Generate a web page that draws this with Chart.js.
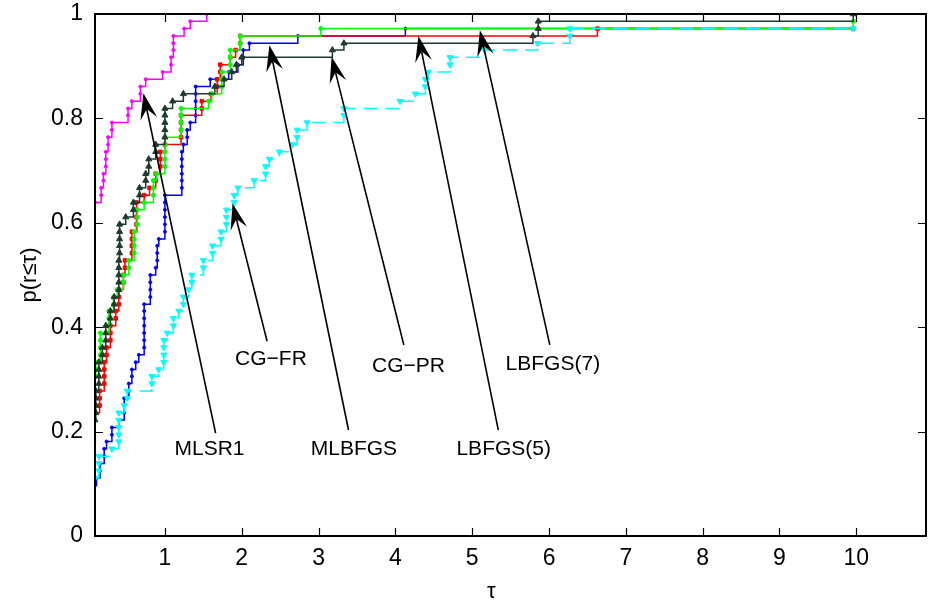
<!DOCTYPE html>
<html>
<head>
<meta charset="utf-8">
<script src="https://cdn.jsdelivr.net/npm/chart.js@4.4.1/dist/chart.umd.min.js"></script>
<style>
  html, body { margin: 0; padding: 0; background: #fff; }
</style>
</head>
<body>
<canvas id="chart" width="931" height="607"></canvas>
<script>
// axis ticks
const tauTicks = [1, 2, 3, 4, 5, 6, 7, 8, 9, 10];
const pTicks = [0, 0.2, 0.4, 0.6, 0.8, 1];

// performance profiles: tau where the curve steps, and p(r<=tau) after the step
const mlsr1Tau = [0.09, 0.17, 0.17, 0.20, 0.20, 0.23, 0.23, 0.23, 0.26, 0.26, 0.31, 0.31, 0.52, 0.52,
  0.57, 0.68, 0.68, 0.75, 0.97, 1.08, 1.08, 1.11, 1.11, 1.11, 1.25, 1.33, 1.545];
const mlsr1P = [.639, .653, .667, .681, .694, .708, .722, .736, .750, .764, .778, .792, .806, .819,
  .833, .847, .861, .875, .889, .903, .917, .931, .944, .958, .972, .986, 1];

const cgprTau = [0.09, 0.10, 0.10, 0.10, 0.10, 0.14, 0.14, 0.14, 0.14, 0.185, 0.185, 0.23, 0.23, 0.23,
  0.29, 0.29, 0.34, 0.34, 0.40, 0.40, 0.40, 0.40, 0.40, 0.41, 0.41, 0.41, 0.41, 0.41, 0.49, 0.59, 0.59,
  0.67, 0.67, 0.75, 0.75, 0.79, 0.79, 0.88, 0.88, 1.0, 1.0, 1.0, 1.0, 1.0, 1.10, 1.24, 1.65, 1.77, 1.87,
  1.93, 2.0, 3.18, 3.33, 5.79, 5.86, 5.86, 9.96];
const cgprP = [.222, .236, .250, .264, .278, .292, .306, .319, .333, .347, .361, .375, .389, .403,
  .417, .431, .444, .458, .472, .486, .500, .514, .528, .542, .556, .569, .583, .597, .611, .625, .639,
  .653, .667, .681, .694, .708, .722, .736, .750, .764, .778, .792, .806, .819, .833, .847, .861, .875, .889,
  .903, .917, .931, .944, .958, .972, .986, 1];

const lbfgs5Tau = [0.09, 0.15, 0.15, 0.15, 0.21, 0.21, 0.21, 0.21, 0.24, 0.24, 0.29, 0.29, 0.29, 0.36,
  0.36, 0.40, 0.40, 0.40, 0.46, 0.46, 0.48, 0.48, 0.57, 0.57, 0.57, 0.57, 0.63, 0.63, 0.63, 0.63, 0.73,
  0.80, 0.88, 0.88, 0.94, 0.94, 0.94, 1.0, 1.21, 1.21, 1.21, 1.21, 1.48, 1.48, 1.6, 1.68, 1.68, 1.72,
  1.72, 1.85, 1.92, 1.98, 1.98, 6.63, 9.96];
const lbfgs5P = [.236, .250, .264, .278, .292, .306, .319, .333, .347, .361, .375, .389, .403, .417,
  .431, .444, .458, .472, .486, .500, .514, .528, .542, .556, .569, .583, .597, .611, .625, .639, .653,
  .667, .681, .694, .708, .722, .736, .750, .764, .778, .792, .806, .819, .833, .847, .861, .875, .889,
  .903, .917, .931, .944, .958, .972, .972];

const lbfgs7Tau = [0.09, 0.10, 0.10, 0.16, 0.16, 0.16, 0.16, 0.27, 0.27, 0.27, 0.33, 0.33, 0.38, 0.46,
  0.46, 0.53, 0.53, 0.60, 0.60, 0.60, 0.60, 0.64, 0.64, 0.64, 0.73, 0.85, 0.85, 0.85, 0.89, 1.0, 1.0,
  1.0, 1.0, 1.0, 1.21, 1.21, 1.21, 1.21, 1.57, 1.61, 1.74, 1.74, 1.74, 1.85, 1.85, 1.85, 1.98, 1.98,
  3.03, 9.96];
const lbfgs7P = [.306, .319, .333, .347, .361, .375, .389, .403, .417, .431, .444, .458, .472, .486,
  .500, .514, .528, .542, .556, .569, .583, .597, .611, .625, .639, .653, .667, .681, .694, .708, .722,
  .736, .750, .764, .778, .792, .806, .819, .833, .847, .861, .875, .889, .903, .917, .931, .944, .958,
  .972, .986];

const mlbfgsTau = [0.09, 0.11, 0.155, 0.155, 0.21, 0.21, 0.24, 0.31, 0.31, 0.40, 0.47, 0.47, 0.47,
  0.53, 0.53, 0.57, 0.57, 0.62, 0.66, 0.73, 0.73, 0.73, 0.73, 0.73, 0.73, 0.73, 0.81, 0.81, 0.81, 0.81,
  0.88, 0.90, 0.90, 0.90, 0.92, 1.0, 1.0, 1.0, 1.0, 1.0, 1.0, 1.22, 1.22, 1.22, 1.22, 1.22, 1.22, 1.24,
  1.29, 1.29, 1.33, 1.40, 1.40, 1.40, 1.40, 1.40, 1.59, 1.83, 1.95, 2.02, 2.02, 2.10, 2.73, 4.13, 9.96];
const mlbfgsP = [.097, .111, .125, .139, .153, .167, .181, .194, .208, .222, .236, .250, .264,
  .278, .292, .306, .319, .333, .347, .361, .375, .389, .403, .417, .431, .444, .458, .472, .486, .500,
  .514, .528, .542, .556, .569, .583, .597, .611, .625, .639, .653, .667, .681, .694, .708, .722, .736, .750,
  .764, .778, .792, .806, .819, .833, .847, .861, .875, .889, .903, .917, .931, .944, .958, .972, .972];

const cgfrTau = [0.09, 0.14, 0.14, 0.14, 0.31, 0.40, 0.40, 0.40, 0.40, 0.40, 0.47, 0.51, 0.51, 0.83,
  0.83, 0.92, 0.985, 0.985, 0.985, 0.985, 1.03, 1.11, 1.11, 1.18, 1.24, 1.24, 1.31, 1.35, 1.35, 1.50,
  1.50, 1.62, 1.62, 1.73, 1.73, 1.80, 1.80, 1.80, 1.90, 1.90, 1.95, 2.16, 2.31, 2.31, 2.36, 2.49, 2.66,
  2.72, 2.72, 2.85, 3.33, 3.33, 4.06, 4.26, 4.39, 4.39, 4.43, 4.71, 4.71, 5.16, 5.85, 6.27, 6.27, 9.96];
const cgfrP = [.111, .125, .139, .153, .167, .181, .194, .208, .222, .236, .250, .264, .278, .292,
  .306, .319, .333, .347, .361, .375, .389, .403, .417, .431, .444, .458, .472, .486, .500, .514,
  .528, .542, .556, .569, .583, .597, .611, .625, .639, .653, .667, .681, .694, .708, .722, .736, .750,
  .764, .778, .792, .806, .819, .833, .847, .861, .875, .889, .903, .917, .931, .944, .958, .972, .972];

// text labels with arrows pointing at their curve (data coordinates)
const noteText = ['MLSR1', 'CG\u2212FR', 'MLBFGS', 'CG\u2212PR', 'LBFGS(5)', 'LBFGS(7)'];
const noteTau = [1.58, 2.38, 3.46, 4.17, 5.41, 6.05];
const noteP = [0.167, 0.338, 0.167, 0.326, 0.167, 0.33];
const tailTau = [1.66, 2.33, 3.39, 4.11, 5.34, 6.01];
const tailP = [0.197, 0.373, 0.203, 0.366, 0.203, 0.366];
const tipTau = [0.72, 1.88, 2.36, 3.17, 4.30, 5.10];
const tipP = [0.848, 0.637, 0.94, 0.918, 0.958, 0.969];

const tickFont = { family: "'Liberation Sans', Arial, sans-serif", size: 23 };
const noteFont = "21px 'Liberation Sans', Arial, sans-serif";

const toPoints = (xs, ys) => xs.map((x, i) => ({ x, y: ys[i] }));

const series = (label, xs, ys, color, style) => ({
  label,
  data: toPoints(xs, ys),
  borderColor: color,
  backgroundColor: color,
  borderWidth: 1.5,
  stepped: 'before',
  fill: false,
  pointBorderWidth: 1,
  ...style,
});

const drawArrow = (ctx, fx, fy, tx, ty) => {
  const ang = Math.atan2(ty - fy, tx - fx);
  const c = Math.cos(ang);
  const s = Math.sin(ang);
  const len = 26;
  const half = 8.5;
  const notch = 16;
  const bx = tx - len * c;
  const by = ty - len * s;
  ctx.beginPath();
  ctx.moveTo(fx, fy);
  ctx.lineTo(tx - notch * c, ty - notch * s);
  ctx.stroke();
  ctx.beginPath();
  ctx.moveTo(tx, ty);
  ctx.lineTo(bx - half * s, by + half * c);
  ctx.lineTo(tx - notch * c, ty - notch * s);
  ctx.lineTo(bx + half * s, by - half * c);
  ctx.closePath();
  ctx.fill();
};

// matlab-like box with inward ticks, axis labels, and the arrow notes
const framePlugin = {
  id: 'framePlugin',
  afterDatasetsDraw(chart) {
    const { ctx, chartArea: a, scales: { x, y } } = chart;
    ctx.save();
    ctx.strokeStyle = '#000';
    ctx.fillStyle = '#000';
    ctx.lineWidth = 1.2;
    ctx.beginPath();
    tauTicks.forEach((v) => {
      const px = Math.round(x.getPixelForValue(v)) + 0.5;
      ctx.moveTo(px, a.bottom); ctx.lineTo(px, a.bottom - 8);
      ctx.moveTo(px, a.top); ctx.lineTo(px, a.top + 8);
    });
    pTicks.forEach((v) => {
      const py = Math.round(y.getPixelForValue(v)) + 0.5;
      ctx.moveTo(a.left, py); ctx.lineTo(a.left + 8, py);
      ctx.moveTo(a.right, py); ctx.lineTo(a.right - 8, py);
    });
    ctx.stroke();
    ctx.lineWidth = 2;
    ctx.strokeRect(a.left, a.top, a.right - a.left, a.bottom - a.top);

    ctx.lineWidth = 1.6;
    noteText.forEach((t, i) => {
      drawArrow(ctx,
        x.getPixelForValue(tailTau[i]), y.getPixelForValue(tailP[i]),
        x.getPixelForValue(tipTau[i]), y.getPixelForValue(tipP[i]));
    });
    ctx.font = noteFont;
    ctx.textAlign = 'center';
    ctx.textBaseline = 'middle';
    noteText.forEach((t, i) => {
      ctx.fillText(t, x.getPixelForValue(noteTau[i]), y.getPixelForValue(noteP[i]));
    });

    ctx.font = "22px 'Liberation Sans', Arial, sans-serif";
    ctx.fillText('\u03c4', x.getPixelForValue(5.25), a.bottom + 56);
    ctx.translate(30, (a.top + a.bottom) / 2);
    ctx.rotate(-Math.PI / 2);
    ctx.fillText('p(r\u2264\u03c4)', 0, 0);
    ctx.restore();
  },
};

new Chart(document.getElementById('chart'), {
  type: 'line',
  data: {
    datasets: [
      series('CG-PR', cgprTau, cgprP, '#1e3b2b', { pointStyle: 'triangle', pointRadius: 3.5 }),
      series('CG-FR', cgfrTau, cgfrP, '#00ffff', { pointStyle: 'triangle', pointRadius: 3.5, pointRotation: 180, borderDash: [14, 8] }),
      series('LBFGS(7)', lbfgs7Tau, lbfgs7P, '#00ff00', { pointStyle: 'circle', pointRadius: 2 }),
      series('LBFGS(5)', lbfgs5Tau, lbfgs5P, '#ff0000', { pointStyle: 'rect', pointRadius: 2.5 }),
      series('MLBFGS', mlbfgsTau, mlbfgsP, '#0000ff', { pointStyle: 'circle', pointRadius: 1.5 }),
      series('MLSR1', mlsr1Tau, mlsr1P, '#ff00ff', { pointStyle: 'circle', pointRadius: 1.5 }),
    ],
  },
  options: {
    responsive: false,
    animation: false,
    layout: { padding: { top: 14, right: 1, left: 0, bottom: 0 } },
    plugins: { legend: { display: false }, tooltip: { enabled: false } },
    scales: {
      x: {
        type: 'linear',
        min: 0.09,
        max: 10.907,
        grid: { display: false, drawTicks: false },
        border: { display: false },
        afterBuildTicks: (s) => { s.ticks = tauTicks.map((v) => ({ value: v })); },
        afterFit: (s) => { s.height = 71; s.paddingLeft = 0; s.paddingRight = 0; },
        ticks: { padding: 9, color: '#000', font: tickFont, maxRotation: 0, autoSkip: false, callback: (v) => String(v) },
      },
      y: {
        type: 'linear',
        min: 0,
        max: 1,
        grid: { display: false, drawTicks: false },
        border: { display: false },
        afterBuildTicks: (s) => { s.ticks = pTicks.map((v) => ({ value: v })); },
        afterFit: (s) => { s.width = 95; s.paddingTop = 0; s.paddingBottom = 0; },
        ticks: { padding: 12, color: '#000', font: tickFont, autoSkip: false, callback: (v) => String(v) },
      },
    },
  },
  plugins: [framePlugin],
});
</script>
</body>
</html>
